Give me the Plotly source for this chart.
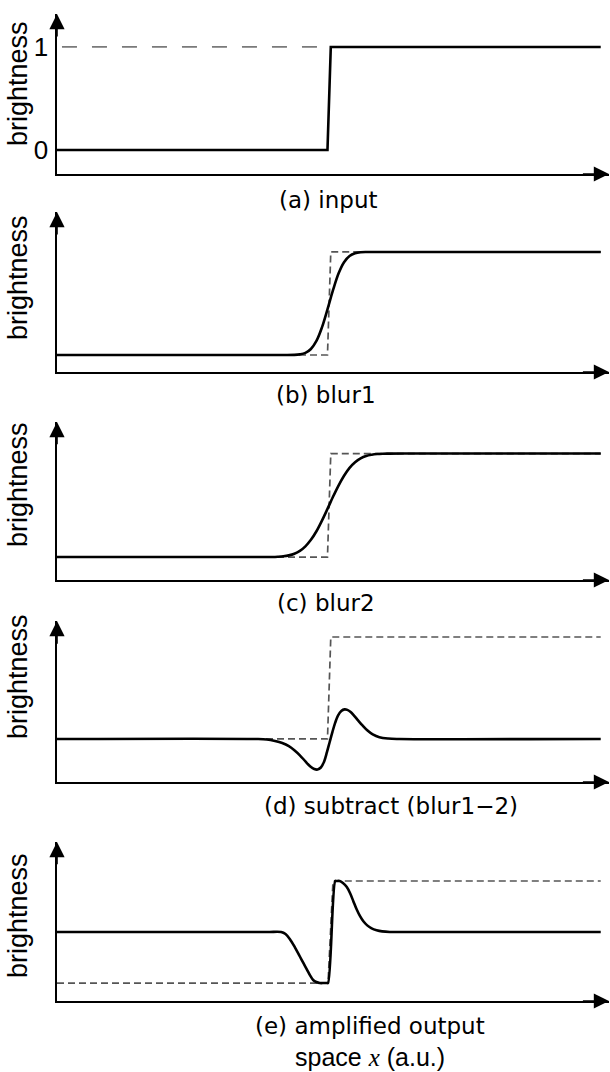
import plotly.graph_objects as go

# ---------------- data ----------------
# x: arbitrary space units, 0 .. 100 along the horizontal axis
input_x = [0, 49.0, 49.6, 98.5]
input_y = [0, 0, 1, 1]

ref1_x = [0.9, 49.6]           # dashed level "1" guide in panel (a)
ref1_y = [1, 1]

step_x = [0, 49.0, 49.6, 98.5]  # dashed input step shown in (b), (c), (d)
step_y = [0, 0, 1, 1]

blur1_x = [0, 40, 43, 44, 45, 46, 47, 48, 49, 50, 51, 52, 53, 54, 55, 56, 59, 98.5]
blur1_y = [0, 0, 0.001, 0.006, 0.02, 0.058, 0.136, 0.268, 0.443, 0.629, 0.791,
           0.901, 0.961, 0.987, 0.997, 1.0, 1.0, 1.0]

blur2_x = [0, 36, 39, 40, 41, 42, 43, 44, 45, 46, 47, 48, 49, 50, 51, 52, 53,
           54, 55, 56, 57, 58, 59, 60, 63, 98.5]
blur2_y = [0, 0, 0.001, 0.003, 0.007, 0.016, 0.032, 0.059, 0.103, 0.166, 0.249,
           0.352, 0.465, 0.582, 0.691, 0.786, 0.862, 0.916, 0.953, 0.976, 0.988,
           0.995, 0.998, 0.999, 1.0, 1.0]

sub_x = [0, 36, 38.0, 39.5, 40.8, 42.0, 43.0, 44.0, 45.0, 45.9, 46.6, 47.2, 47.8,
         48.4, 48.9, 49.4, 49.9, 50.4, 50.9, 51.5, 52.1, 52.6, 53.2, 53.8, 54.5,
         55.3, 56.2, 57.2, 58.4, 60.0, 62, 98.5]
sub_y = [0, 0, -0.005, -0.02, -0.04, -0.07, -0.11, -0.16, -0.22, -0.27, -0.295,
         -0.30, -0.28, -0.22, -0.13, -0.03, 0.07, 0.16, 0.23, 0.275, 0.29, 0.285,
         0.265, 0.23, 0.185, 0.135, 0.085, 0.045, 0.017, 0.004, 0, 0]

amp_x = [0, 38, 40.6, 41.4, 42.2, 43.1, 44.0, 44.7, 45.3, 45.9, 46.4, 47.0, 47.6,
         48.4, 48.9, 49.1, 50.4, 50.6, 51.2, 51.8, 52.5, 53.1, 53.7, 54.3, 54.9,
         55.5, 56.2, 57.0, 57.9, 58.9, 60.3, 62, 98.5]
amp_y = [0, 0, 0, -0.02, -0.07, -0.15, -0.24, -0.31, -0.37, -0.43, -0.47, -0.49,
         -0.50, -0.50, -0.50, -0.50, 0.50, 0.50, 0.50, 0.48, 0.44, 0.38, 0.30,
         0.22, 0.155, 0.105, 0.065, 0.035, 0.017, 0.006, 0, 0, 0]

ampref_x = [0, 49.1, 50.0, 98.5]
ampref_y = [-0.5, -0.5, 0.5, 0.5]

tick_vals_a = [0, 1]
tick_text_a = ["0", "1"]

titles = ["(a) input", "(b) blur1", "(c) blur2", "(d) subtract (blur1\u22122)",
          "(e) amplified output"]
y_label = "brightness"
x_label = "space <span style=\"font-family:'Liberation Serif'\"><i>x</i></span> (a.u.)"

# ---------------- layout helpers ----------------
W, H = 610, 1072
X0, X1 = 57, 609          # pixel extent of horizontal axes


def py(p):
    return 1 - p / H


def px(p):
    return p / W


# per panel: bottom px, top px, y range, label centre px, title centre (x,y)
panels = [
    dict(bot=174, top=14, yr=[-0.233, 1.320], lab=84, tt=(328, 200)),
    dict(bot=372, top=212, yr=[-0.165, 1.388], lab=278, tt=(326, 395)),
    dict(bot=580, top=422, yr=[-0.222, 1.305], lab=485, tt=(326, 603)),
    dict(bot=782, top=621, yr=[-0.422, 1.157], lab=677, tt=(391, 806)),
    dict(bot=1001, top=842, yr=[-0.676, 0.882], lab=916, tt=(370, 1026)),
]

SOLID = dict(color="black", width=2.6)
DASH_LONG = dict(color="#7a7a7a", width=1.8, dash="15px,15px")
DASH_SHORT = dict(color="#555555", width=1.7, dash="7px,4px")

fig = go.Figure()


def add(i, x, y, line, shape="linear", smoothing=1.0):
    fig.add_trace(go.Scatter(x=x, y=y, mode="lines",
                             line=dict(line, shape=shape, smoothing=smoothing),
                             xaxis="x" if i == 1 else f"x{i}",
                             yaxis="y" if i == 1 else f"y{i}",
                             hoverinfo="skip", showlegend=False))


# (a)
add(1, ref1_x, ref1_y, DASH_LONG)
add(1, input_x, input_y, SOLID)
# (b)
add(2, step_x, step_y, DASH_SHORT)
add(2, blur1_x, blur1_y, SOLID, "spline")
# (c)
add(3, step_x, step_y, DASH_SHORT)
add(3, blur2_x, blur2_y, SOLID, "spline")
# (d)
add(4, step_x, step_y, DASH_SHORT)
add(4, sub_x, sub_y, SOLID, "spline", 1.0)
# (e)
add(5, ampref_x, ampref_y, DASH_SHORT)
add(5, amp_x, amp_y, SOLID, "spline", 0.9)

layout = dict(width=W, height=H, margin=dict(l=0, r=0, t=0, b=0),
              paper_bgcolor="white", plot_bgcolor="white", showlegend=False)
annotations = []
for i, p in enumerate(panels, start=1):
    xa = "xaxis" if i == 1 else f"xaxis{i}"
    ya = "yaxis" if i == 1 else f"yaxis{i}"
    yid = "y" if i == 1 else f"y{i}"
    xid = "x" if i == 1 else f"x{i}"
    layout[xa] = dict(domain=[px(X0), px(X1)], range=[0, 100], anchor=yid,
                      showline=True, linecolor="black", linewidth=1.6,
                      showgrid=False, zeroline=False, showticklabels=False,
                      ticks="", fixedrange=True)
    yax = dict(domain=[py(p["bot"]), py(p["top"])], range=p["yr"], anchor=xid,
               showline=True, linecolor="black", linewidth=1.6,
               showgrid=False, zeroline=False, showticklabels=False,
               ticks="", fixedrange=True)
    if i == 1:
        yax.update(showticklabels=True, tickvals=tick_vals_a, ticktext=tick_text_a,
                   tickfont=dict(family="Liberation Sans", size=26, color="black"),
                   ticklabelstandoff=2)
    layout[ya] = yax
    # arrow heads
    annotations.append(dict(x=1, y=0, xref=f"{xid} domain", yref=f"{yid} domain",
                            ax=0.95, ay=0, axref=f"{xid} domain", ayref=f"{yid} domain",
                            text="", showarrow=True, arrowhead=2, arrowsize=1.9,
                            arrowwidth=1.6, arrowcolor="black", standoff=0))
    annotations.append(dict(x=0, y=1, xref=f"{xid} domain", yref=f"{yid} domain",
                            ax=0, ay=0.85, axref=f"{xid} domain", ayref=f"{yid} domain",
                            text="", showarrow=True, arrowhead=2, arrowsize=1.9,
                            arrowwidth=1.6, arrowcolor="black", standoff=0))
    # y label
    annotations.append(dict(x=px(18), y=py(p["lab"]), xref="paper", yref="paper",
                            text=y_label, textangle=-90, showarrow=False,
                            xanchor="center", yanchor="middle",
                            font=dict(family="Liberation Sans", size=27, color="black")))
    # panel title
    annotations.append(dict(x=px(p["tt"][0]), y=py(p["tt"][1]), xref="paper", yref="paper",
                            text=titles[i - 1], showarrow=False,
                            xanchor="center", yanchor="middle",
                            font=dict(family="DejaVu Sans", size=23, color="black")))

annotations.append(dict(x=px(370), y=py(1057), xref="paper", yref="paper",
                        text=x_label, showarrow=False, xanchor="center", yanchor="middle",
                        font=dict(family="Liberation Sans", size=25, color="black")))
layout["annotations"] = annotations
fig.update_layout(**layout)

fig.write_html("out.html", config={"displayModeBar": False, "staticPlot": True},
               post_script="document.body.style.margin='0';")
